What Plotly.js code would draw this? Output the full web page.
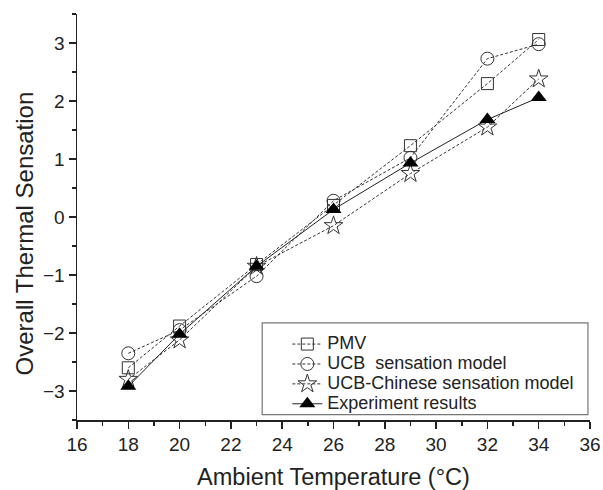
<!DOCTYPE html>
<html><head><meta charset="utf-8">
<script src="https://cdn.plot.ly/plotly-3.0.1.min.js"></script>
<style>body{margin:0;background:#fff}#c{width:603px;height:490px}</style>
</head><body><div id="c"></div>
<script>
const temps = [18, 20, 23, 26, 29, 32, 34];
const pmv = [-2.6, -1.88, -0.82, 0.2, 1.23, 2.3, 3.06];
const ucb = [-2.35, -1.95, -1.02, 0.28, 1.02, 2.73, 2.98];
const ucbChinese = [-2.8, -2.12, -0.85, -0.15, 0.75, 1.55, 2.38];
const experiment = [-2.92, -2.02, -0.85, 0.13, 0.93, 1.68, 2.06];
const names = ['PMV', 'UCB  sensation model', 'UCB-Chinese sensation model', 'Experiment results'];
const xTitle = 'Ambient Temperature (\u00B0C)';
const yTitle = 'Overall Thermal Sensation';

const big = s => '<span style="font-size:18px">' + s + '</span>';
const dashLine = {color: '#333', width: 1, dash: '3px,2px'};
const traces = [
  {x: temps, y: pmv, name: big(names[0]), mode: 'lines+markers', line: dashLine,
   marker: {symbol: 'square-open', size: 12, color: '#333', line: {width: 1}}},
  {x: temps, y: ucb, name: big(names[1]), mode: 'lines+markers', line: dashLine,
   marker: {symbol: 'circle-open', size: 13, color: '#333', line: {width: 1}}},
  {x: temps, y: ucbChinese, name: big(names[2]), mode: 'lines+markers', line: dashLine,
   marker: {symbol: 'star-open', size: 14, color: '#333', line: {width: 1}}},
  {x: temps, y: experiment, name: big(names[3]), mode: 'lines+markers',
   line: {color: '#222', width: 1},
   marker: {symbol: 'triangle-up', size: 14, color: '#000'}}
];
const layout = {
  width: 603, height: 490,
  margin: {l: 77, r: 13, t: 14, b: 70},
  paper_bgcolor: '#fff', plot_bgcolor: '#fff',
  font: {family: 'Liberation Sans, Arial, sans-serif', color: '#222', size: 15},
  showlegend: true,
  legend: {x: 0.41, y: 0.113, xanchor: 'left', yanchor: 'middle',
    borderwidth: 0, bgcolor: 'rgba(0,0,0,0)',
    font: {size: 13, color: '#222'}, tracegroupgap: 0, itemwidth: 30},
  shapes: [{type: 'rect', xref: 'paper', yref: 'paper', x0: 0.361, x1: 0.996, y0: 0.013, y1: 0.239,
    line: {color: '#777', width: 1.2}, fillcolor: 'rgba(0,0,0,0)', layer: 'below'}],
  annotations: [{text: yTitle, textangle: -90, xref: 'paper', yref: 'paper',
    x: -0.103, y: 0.46, xanchor: 'center', yanchor: 'middle', showarrow: false,
    font: {size: 24, color: '#222'}}],
  xaxis: {range: [16, 36], dtick: 2, showgrid: false, zeroline: false,
    showline: true, linecolor: '#222', linewidth: 1.5,
    ticks: 'outside', ticklen: 7, tickwidth: 1.5, tickcolor: '#222',
    minor: {dtick: 1, ticks: 'outside', ticklen: 4, tickwidth: 1.5, tickcolor: '#222'},
    tickfont: {size: 19},
    title: {text: xTitle, font: {size: 23.5}, standoff: 20}},
  yaxis: {range: [-3.5, 3.5], dtick: 1, showgrid: false, zeroline: false,
    showline: true, linecolor: '#222', linewidth: 1.5,
    ticks: 'outside', ticklen: 7, tickwidth: 1.5, tickcolor: '#222',
    minor: {dtick: 0.5, ticks: 'outside', ticklen: 4, tickwidth: 1.5, tickcolor: '#222'},
    tickfont: {size: 19}}
};
Plotly.newPlot('c', traces, layout, {displayModeBar: false, staticPlot: true});
</script></body></html>
